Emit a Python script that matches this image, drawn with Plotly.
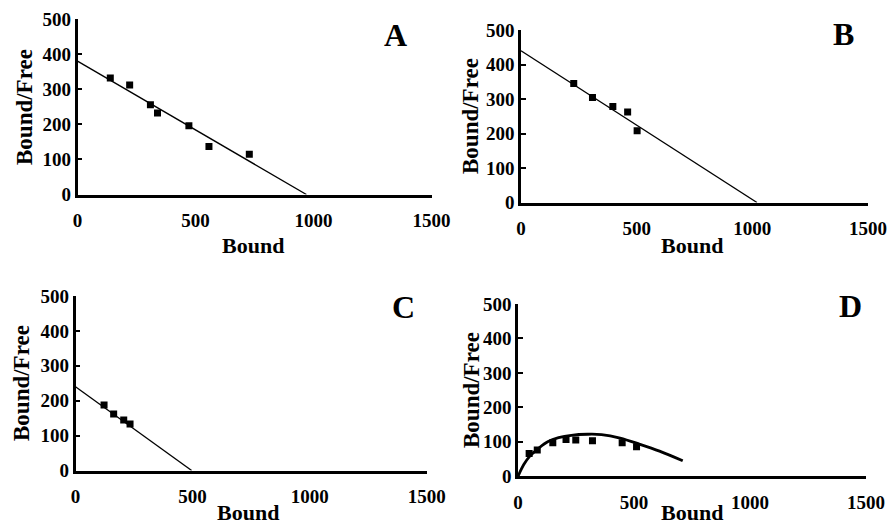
import plotly.graph_objects as go

# ---- data ----
A_bound = [139, 221, 309, 339, 472, 557, 728]
A_bf = [332, 312, 256, 232, 196, 137, 115]
A_fit_x = [0, 970]
A_fit_y = [380, 0]

B_bound = [228, 309, 397, 461, 502]
B_bf = [345, 304, 278, 262, 208]
B_fit_x = [0, 1020]
B_fit_y = [440, 0]

C_bound = [122, 163, 206, 233]
C_bf = [188, 162, 145, 133]
C_fit_x = [0, 496]
C_fit_y = [240, 0]

D_bound = [48, 83, 150, 207, 249, 321, 449, 511]
D_bf = [66, 76, 97, 107, 105, 103, 97, 86]
D_fit_x = [0, 25, 50, 90, 130, 175, 230, 300, 360, 440, 525, 610, 710]
D_fit_y = [0, 34, 58, 82, 101, 112, 119, 122, 121, 111, 93, 73, 45]

x_ticks = [0, 500, 1000, 1500]
y_ticks = [0, 100, 200, 300, 400, 500]
panel_labels = ["A", "B", "C", "D"]

W, H = 888, 525
FONT = "Liberation Serif, Times New Roman, serif"

panels = [
    (A_bound, A_bf, A_fit_x, A_fit_y, 1.3, (77.5, 431.5), (194.5, 19), (395, 35), (25, 107), (253, 245)),
    (B_bound, B_bf, B_fit_x, B_fit_y, 1.3, (521, 868), (202.5, 30), (843, 34), (471, 116), (692, 245)),
    (C_bound, C_bf, C_fit_x, C_fit_y, 1.3, (75.5, 426.7), (470.5, 296), (403, 307), (22, 383), (248, 512)),
    (D_bound, D_bf, D_fit_x, D_fit_y, 2.8, (518, 866), (476.3, 304), (850, 306), (471, 390), (692, 512)),
]

fig = go.Figure()
layout = dict(
    width=W, height=H, autosize=False,
    margin=dict(l=0, r=0, t=0, b=0, pad=0, autoexpand=False),
    paper_bgcolor="white", plot_bgcolor="white",
    showlegend=False,
    font=dict(family=FONT, color="black"),
)
annotations = []
tickfont = dict(family=FONT, size=19, color="black", weight="bold")

for i, (px, py, fx, fy, fw, xd, yd, lab, ytp, xtp) in enumerate(panels):
    n = "" if i == 0 else str(i + 1)
    xa, ya = "x" + n, "y" + n
    fig.add_trace(go.Scatter(x=fx, y=fy, mode="lines",
                             line=dict(color="black", width=fw, shape="spline" if i == 3 else "linear"),
                             xaxis=xa, yaxis=ya, hoverinfo="skip"))
    fig.add_trace(go.Scatter(x=px, y=py, mode="markers",
                             marker=dict(symbol="square", size=7, color="black"),
                             xaxis=xa, yaxis=ya))
    xdom = [xd[0] / W, xd[1] / W]
    ydom = [(H - yd[0]) / H, (H - yd[1]) / H]
    common = dict(showline=True, linecolor="black", linewidth=2.5, showgrid=False,
                  zeroline=False, automargin=False, tickfont=tickfont)
    # main x axis: tick labels pushed down by transparent outside ticks
    layout["xaxis" + n] = dict(common, domain=xdom, range=[0, 1500], tickvals=x_ticks, anchor=ya,
                               ticks="outside", ticklen=7, tickwidth=1,
                               tickcolor="rgba(0,0,0,0)")
    # overlay x axis: line with inside tick marks only
    k = str(i + 5)
    layout["xaxis" + k] = dict(common, domain=xdom, range=[0, 1500], tickvals=x_ticks, anchor=ya,
                               overlaying=xa, showticklabels=False,
                               ticks="inside", ticklen=5, tickwidth=2, tickcolor="black")
    layout["yaxis" + n] = dict(common, domain=ydom, range=[0, 500], tickvals=y_ticks, anchor=xa,
                               ticks="inside", ticklen=5, tickwidth=2, tickcolor="black")
    annotations.append(dict(text=panel_labels[i], x=lab[0] / W, y=(H - lab[1]) / H,
                            xref="paper", yref="paper", showarrow=False,
                            xanchor="center", yanchor="middle",
                            font=dict(family=FONT, size=32, color="black", weight="bold")))
    annotations.append(dict(text="Bound/Free", textangle=-90, x=ytp[0] / W, y=(H - ytp[1]) / H,
                            xref="paper", yref="paper", showarrow=False,
                            xanchor="center", yanchor="middle",
                            font=dict(family=FONT, size=23, color="black", weight="bold")))
    annotations.append(dict(text="Bound", x=xtp[0] / W, y=(H - xtp[1]) / H,
                            xref="paper", yref="paper", showarrow=False,
                            xanchor="center", yanchor="middle",
                            font=dict(family=FONT, size=22, color="black", weight="bold")))

layout["annotations"] = annotations
fig.update_layout(**layout)
fig.write_html("out.html", config={"displayModeBar": False},
               post_script="document.body.style.margin='0px';")
